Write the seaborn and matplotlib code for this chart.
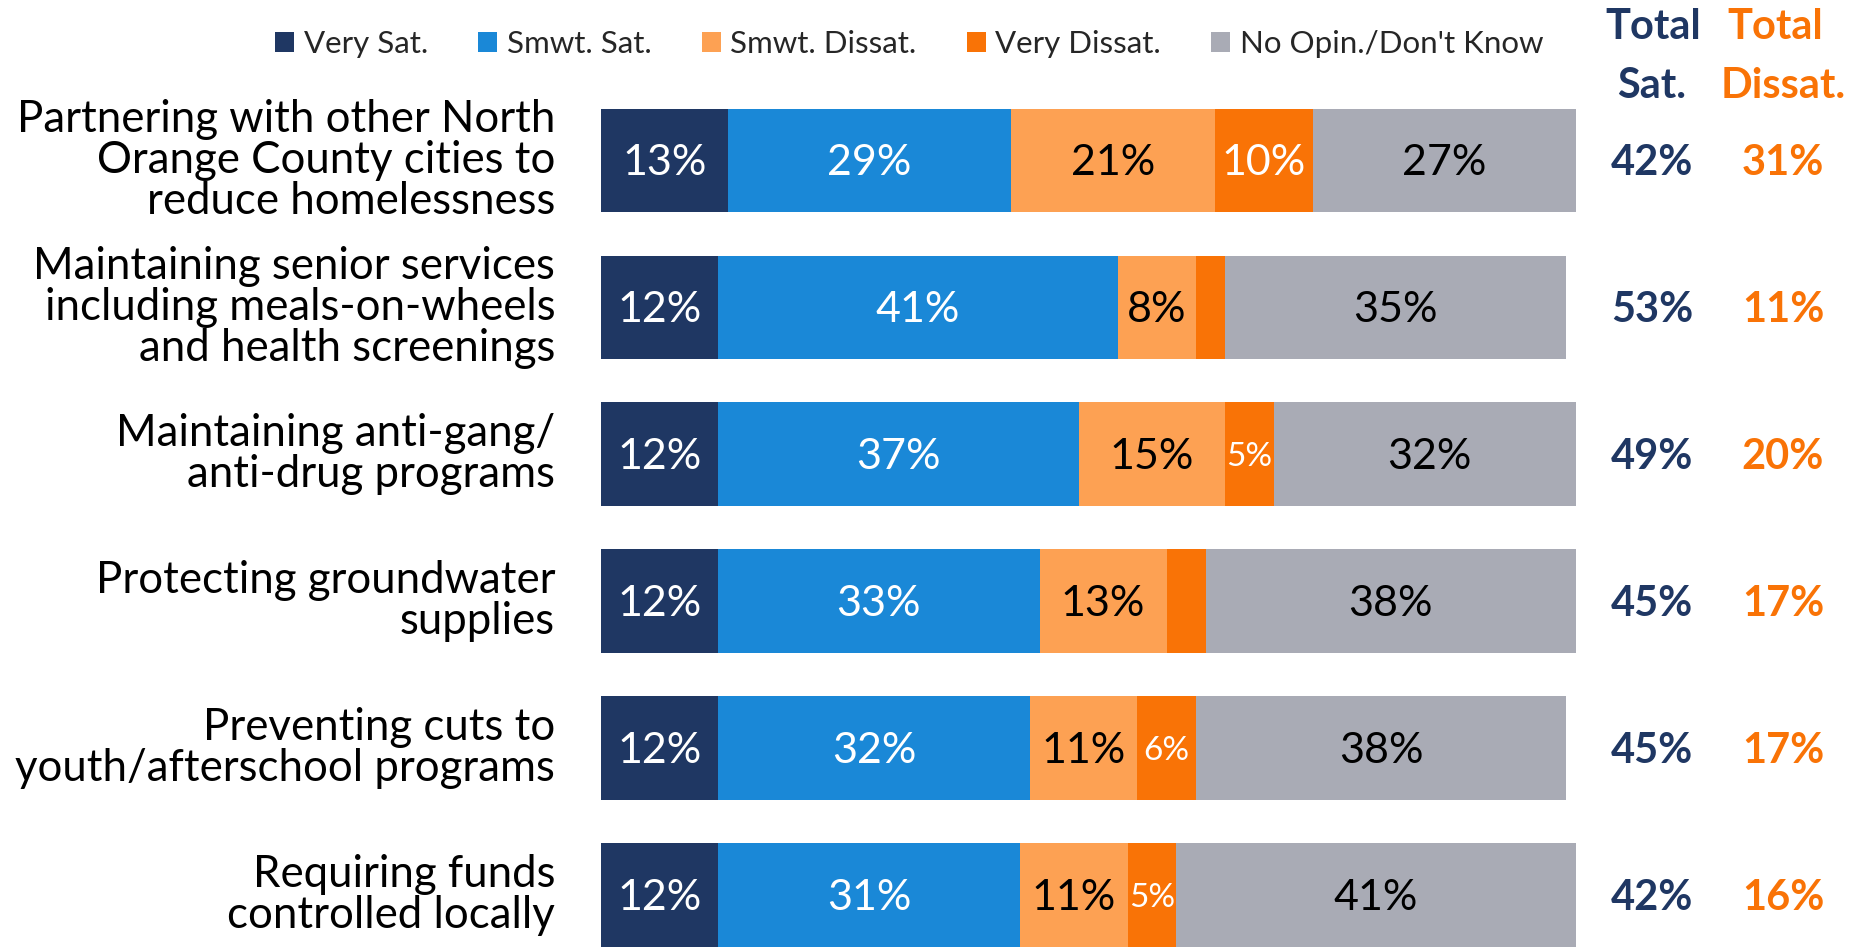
import matplotlib
matplotlib.use("Agg")
import matplotlib.pyplot as plt
import numpy as np
import pandas as pd
import seaborn as sns
from matplotlib.patches import Patch

# ---- data -------------------------------------------------------------
categories = [
    "Partnering with other North\nOrange County cities to\nreduce homelessness",
    "Maintaining senior services\nincluding meals-on-wheels\nand health screenings",
    "Maintaining anti-gang/\nanti-drug programs",
    "Protecting groundwater\nsupplies",
    "Preventing cuts to\nyouth/afterschool programs",
    "Requiring funds\ncontrolled locally",
]
series_names = ["Very Sat.", "Smwt. Sat.", "Smwt. Dissat.", "Very Dissat.",
                "No Opin./Don't Know"]
very_sat = [13, 12, 12, 12, 12, 12]
smwt_sat = [29, 41, 37, 33, 32, 31]
smwt_dissat = [21, 8, 15, 13, 11, 11]
very_dissat = [10, 3, 5, 4, 6, 5]
no_opinion = [27, 35, 32, 38, 38, 41]
total_sat = [42, 53, 49, 45, 45, 42]
total_dissat = [31, 11, 20, 17, 17, 16]

# ---- style ------------------------------------------------------------
NAVY = "#1F3763"
BLUE = "#1A88D7"
LIGHT_ORANGE = "#FDA153"
ORANGE = "#F97306"
GREY = "#A9ABB5"
colors = [NAVY, BLUE, LIGHT_ORANGE, ORANGE, GREY]
text_colors = ["white", "white", "black", "white", "black"]

sns.set_theme(style="white")
plt.rcParams["font.family"] = ["Lato", "DejaVu Sans"]

W, H = 1851, 947
fig = plt.figure(figsize=(W / 100, H / 100), dpi=100)
ax_left, ax_right = 601, 1576
ax_top = 108.6
ax = fig.add_axes([ax_left / W, 0, (ax_right - ax_left) / W, (H - ax_top) / H])

series = [very_sat, smwt_sat, smwt_dissat, very_dissat, no_opinion]
df = pd.DataFrame({name: vals for name, vals in zip(series_names, series)},
                  index=categories)
cum = df.cumsum(axis=1)

bar_h = 0.707
# stacked bars: draw the running totals from the longest down so each
# shorter segment sits on top of the previous one
for k in range(len(series_names) - 1, -1, -1):
    col = series_names[k]
    sns.barplot(x=cum[col].values, y=categories, orient="h", color=colors[k],
                saturation=1, width=bar_h, linewidth=0, ax=ax)

# segment labels
for k, col in enumerate(series_names):
    starts = cum[col].values - df[col].values
    for i, (s, v) in enumerate(zip(starts, df[col].values)):
        if v < 5:
            continue
        size = 24 if v < 8 else 31
        ax.text(s + v / 2, i + 0.02, f"{v}%", ha="center", va="center",
                color=text_colors[k], fontsize=size)

ax.set_xlim(0, 100)
ax.set_ylim(len(categories) - 1 + bar_h / 2, -bar_h / 2)
ax.set_xlabel("")
ax.set_ylabel("")
ax.set_xticks([])
sns.despine(ax=ax, left=True, bottom=True)
ax.tick_params(axis="y", length=0, pad=33, labelsize=31.5)
for lbl in ax.get_yticklabels():
    lbl.set_va("center")
    lbl.set_multialignment("right")
    lbl.set_linespacing(1.0)
    lbl.set_color("black")

# totals columns
yx = ax.get_yaxis_transform()
sat_x = (1652 - ax_left) / (ax_right - ax_left)
dis_x = (1783 - ax_left) / (ax_right - ax_left)
for i, (ts, td) in enumerate(zip(total_sat, total_dissat)):
    ax.text(sat_x, i + 0.02, f"{ts}%", transform=yx, ha="center", va="center",
            color=NAVY, fontsize=30, fontweight="bold", clip_on=False)
    ax.text(dis_x, i + 0.02, f"{td}%", transform=yx, ha="center", va="center",
            color=ORANGE, fontsize=30, fontweight="bold", clip_on=False)

fig.text(1653 / W, 1 - 27 / H, "Total", ha="center", va="center",
         color=NAVY, fontsize=30, fontweight="bold")
fig.text(1652 / W, 1 - 86 / H, "Sat.", ha="center", va="center",
         color=NAVY, fontsize=30, fontweight="bold")
fig.text(1775 / W, 1 - 27 / H, "Total", ha="center", va="center",
         color=ORANGE, fontsize=30, fontweight="bold")
fig.text(1783 / W, 1 - 86 / H, "Dissat.", ha="center", va="center",
         color=ORANGE, fontsize=30, fontweight="bold")

# legend
handles = [Patch(facecolor=c, edgecolor="none") for c in colors]
fig.legend(handles, series_names, loc="center left",
           bbox_to_anchor=(275 / W, 1 - 44 / H), ncol=5, frameon=False,
           fontsize=22.5, handlelength=0.62, handleheight=0.62,
           handletextpad=0.3, columnspacing=1.6, borderaxespad=0,
           borderpad=0)

fig.savefig("out.png", dpi=100)
